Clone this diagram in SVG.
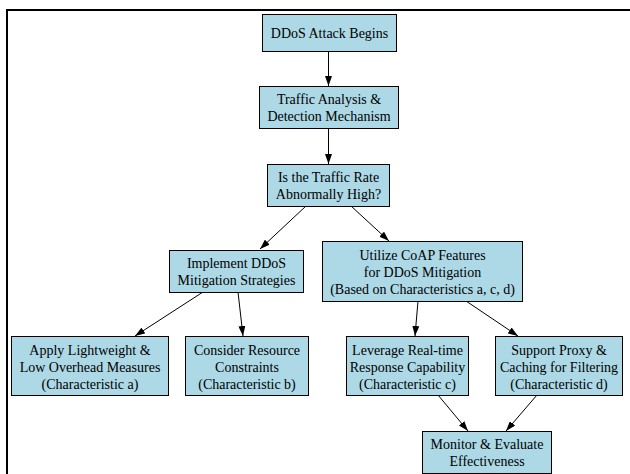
<svg xmlns="http://www.w3.org/2000/svg" width="630" height="474" viewBox="0 0 630 474">
<style>
.n rect{fill:#add8e6;stroke:#000;stroke-width:1}
.n text{font-family:"Liberation Serif","Times New Roman",serif;font-size:14px;fill:#000;text-anchor:middle}
.e line{stroke:#000;stroke-width:1;marker-end:url(#ah)}
</style>
<defs>
<marker id="ah" viewBox="0 0 10 7" refX="10" refY="3.5" markerWidth="10" markerHeight="7" markerUnits="userSpaceOnUse" orient="auto">
<path d="M0,0 L10,3.5 L0,7 Z" fill="#000"/>
</marker>
</defs>
<rect x="7" y="10" width="700" height="600" fill="none" stroke="#000" stroke-width="2"/>
<g id="connectors" class="e">
<line x1="328.5" y1="51" x2="328.5" y2="86"/>
<line x1="328.5" y1="128" x2="328.5" y2="164"/>
<line x1="306" y1="206" x2="260" y2="249"/>
<line x1="351" y1="206" x2="389" y2="241"/>
<line x1="203" y1="292" x2="135" y2="336"/>
<line x1="238" y1="292" x2="243" y2="336"/>
<line x1="418" y1="301" x2="415" y2="336"/>
<line x1="466" y1="301" x2="518" y2="336"/>
<line x1="438" y1="395" x2="468" y2="431"/>
<line x1="537" y1="395" x2="506" y2="431"/>
</g>
<g id="n1" class="n"><rect x="262.5" y="14.5" width="134" height="37"/><text x="329.5" y="38">DDoS Attack Begins</text></g>
<g id="n2" class="n"><rect x="259.5" y="86.5" width="139" height="42"/><text x="329" y="104">Traffic Analysis &amp;</text><text x="329" y="121">Detection Mechanism</text></g>
<g id="n3" class="n"><rect x="267.5" y="164.5" width="122" height="42"/><text x="328.5" y="182">Is the Traffic Rate</text><text x="328.5" y="199">Abnormally High?</text></g>
<g id="n4" class="n"><rect x="169.5" y="250.5" width="134" height="42"/><text x="236.5" y="268">Implement DDoS</text><text x="236.5" y="285">Mitigation Strategies</text></g>
<g id="n5" class="n"><rect x="322.5" y="241.5" width="200" height="60"/><text x="422.5" y="260">Utilize CoAP Features</text><text x="422.5" y="277">for DDoS Mitigation</text><text x="422.5" y="294">(Based on Characteristics a, c, d)</text></g>
<g id="n6" class="n"><rect x="11.5" y="336.5" width="157" height="59"/><text x="90" y="355">Apply Lightweight &amp;</text><text x="90" y="372">Low Overhead Measures</text><text x="90" y="389">(Characteristic a)</text></g>
<g id="n7" class="n"><rect x="185.5" y="336.5" width="123" height="59"/><text x="247" y="355">Consider Resource</text><text x="247" y="372">Constraints</text><text x="247" y="389">(Characteristic b)</text></g>
<g id="n8" class="n"><rect x="346.5" y="336.5" width="122" height="59"/><text x="407.5" y="355">Leverage Real-time</text><text x="407.5" y="372">Response Capability</text><text x="407.5" y="389">(Characteristic c)</text></g>
<g id="n9" class="n"><rect x="495.5" y="336.5" width="127" height="59"/><text x="559" y="355">Support Proxy &amp;</text><text x="559" y="372">Caching for Filtering</text><text x="559" y="389">(Characteristic d)</text></g>
<g id="n10" class="n"><rect x="422.5" y="431.5" width="129" height="42"/><text x="487" y="449">Monitor &amp; Evaluate</text><text x="487" y="466">Effectiveness</text></g>
</svg>
